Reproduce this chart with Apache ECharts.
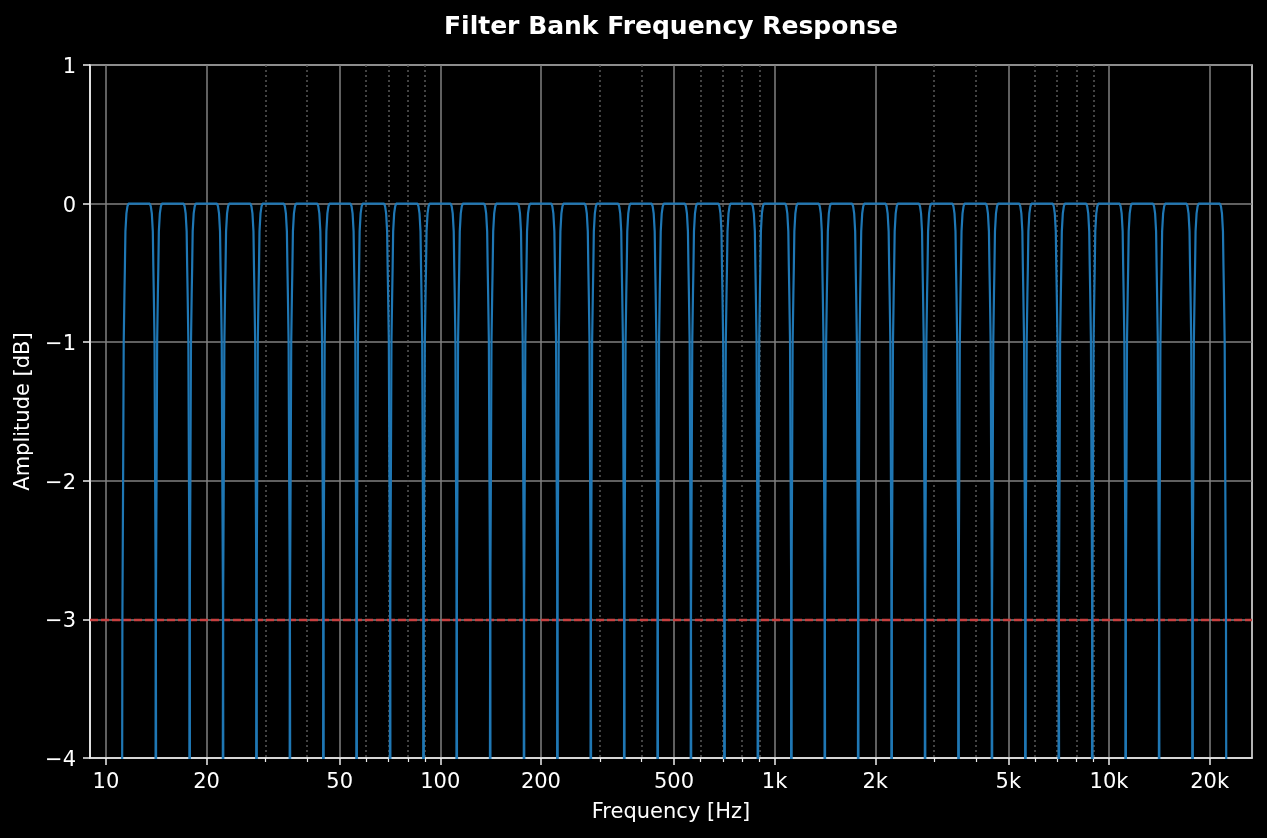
<!DOCTYPE html>
<html>
<head>
<meta charset="utf-8">
<script src="https://cdn.jsdelivr.net/npm/echarts@6/dist/echarts.min.js"></script>
<style>
html, body { margin: 0; background: #000; }
#main { width: 1267px; height: 838px; }
</style>
</head>
<body>
<div id="main"></div>
<script>
// third-octave band edges [Hz]
var bandEdges = [11.2, 14.1, 17.8, 22.4, 28.2, 35.5, 44.7, 56.2, 70.8, 89.1,
	112, 141, 178, 224, 282, 355, 447, 562, 708, 891,
	1122, 1413, 1778, 2239, 2818, 3548, 4467, 5623, 7079, 8913,
	11220, 14125, 17783, 22387];
// skirt of one band: octaves inside the band edge -> amplitude dB
var skirtOct = [-0.02, -0.003, 0, 0.007, 0.013, 0.02, 0.025, 0.03, 0.04, 0.05, 0.06];
var skirtDb = [-15, -4.3, -3, -2, -1, -0.66, -0.45, -0.2, -0.07, -0.02, 0];

var xTickValues = [10, 20, 50, 100, 200, 500, 1000, 2000, 5000, 10000, 20000];
var xTickLabels = ['10', '20', '50', '100', '200', '500', '1k', '2k', '5k', '10k', '20k'];
var xMinorValues = [30, 40, 60, 70, 80, 90, 300, 400, 600, 700, 800, 900,
	3000, 4000, 6000, 7000, 8000, 9000];
var cutoffDb = -3;
var xMin = 8.96, xMax = 26780;

var chart = echarts.init(document.getElementById('main'));

var lgMin = Math.log10(xMin), lgMax = Math.log10(xMax);

function bandData(lo, hi) {
	var pts = [];
	for (var k = 0; k < skirtOct.length; k++) {
		pts.push([lo * Math.pow(2, skirtOct[k]), skirtDb[k]]);
	}
	for (var k = skirtOct.length - 1; k >= 0; k--) {
		pts.push([hi * Math.pow(2, -skirtOct[k]), skirtDb[k]]);
	}
	return pts;
}

var series = [];
for (var i = 0; i < bandEdges.length - 1; i++) {
	series.push({
		type: 'line',
		xAxisIndex: 0,
		yAxisIndex: 0,
		data: bandData(bandEdges[i], bandEdges[i + 1]),
		showSymbol: false,
		symbol: 'none',
		clip: true,
		z: 3,
		lineStyle: { color: '#1f77b4', width: 2.2 },
		silent: true
	});
}
// -3 dB reference line
series[0].markLine = {
	silent: true,
	symbol: 'none',
	z: 2,
	label: { show: false },
	lineStyle: { color: '#c84040', width: 2.4, type: [8, 3], opacity: 1 },
	data: [{ yAxis: cutoffDb }]
};

var white = '#eeeeee';
var gridGray = '#808080';

option = {
	backgroundColor: '#000',
	animation: false,
	textStyle: { fontFamily: 'DejaVu Sans' },
	title: {
		text: 'Filter Bank Frequency Response',
		left: 666,
		textAlign: 'center',
		top: 10,
		textStyle: { color: '#fff', fontSize: 25, fontWeight: 'bold', fontFamily: 'DejaVu Sans' }
	},
	grid: {
		left: 90, right: 15, top: 65, bottom: 80,
		show: true,
		borderColor: white,
		borderWidth: 1.5
	},
	xAxis: [{
		// data axis
		type: 'log',
		logBase: 10,
		min: xMin,
		max: xMax,
		show: false
	}, {
		// major ticks, labels, solid grid
		type: 'value',
		position: 'bottom',
		min: lgMin,
		max: lgMax,
		axisLine: { show: true, lineStyle: { color: white, width: 1.5 } },
		axisTick: {
			show: true, length: 7,
			lineStyle: { color: white, width: 1.5 },
			customValues: xTickValues.map(Math.log10)
		},
		axisLabel: {
			color: '#fff', fontSize: 21, margin: 14,
			customValues: xTickValues.map(Math.log10),
			formatter: function (v) {
				for (var j = 0; j < xTickValues.length; j++) {
					if (Math.abs(Math.log10(xTickValues[j]) - v) < 1e-6) return xTickLabels[j];
				}
				return '';
			}
		},
		splitLine: { show: true, lineStyle: { color: gridGray, width: 1.5 } },
		name: 'Frequency [Hz]',
		nameLocation: 'middle',
		nameGap: 44,
		nameTextStyle: { color: '#fff', fontSize: 21 }
	}, {
		// minor ticks, dotted grid
		type: 'value',
		position: 'bottom',
		min: lgMin,
		max: lgMax,
		axisLine: { show: false },
		axisLabel: { show: false },
		axisTick: {
			show: true, length: 4,
			lineStyle: { color: white, width: 1.2 },
			customValues: xMinorValues.map(Math.log10)
		},
		splitLine: { show: true, lineStyle: { color: '#5a5a5a', width: 1.5, type: [2, 3] } }
	}],
	yAxis: {
		type: 'value',
		min: -4,
		max: 1,
		interval: 1,
		axisLine: { show: true, lineStyle: { color: white, width: 1.5 } },
		axisTick: { show: true, length: 7, lineStyle: { color: white, width: 1.5 } },
		axisLabel: {
			color: '#fff', fontSize: 21, margin: 14,
			verticalAlign: 'top',
			lineHeight: 21,
			padding: [-8, 0, 0, 0],
			formatter: function (v) { return String(v).replace('-', '\u2212'); }
		},
		splitLine: { show: true, lineStyle: { color: gridGray, width: 1.5 } },
		name: 'Amplitude [dB]',
		nameLocation: 'middle',
		nameGap: 52,
		nameTextStyle: { color: '#fff', fontSize: 21 }
	},
	series: series
};
chart.setOption(option);
</script>
</body>
</html>
